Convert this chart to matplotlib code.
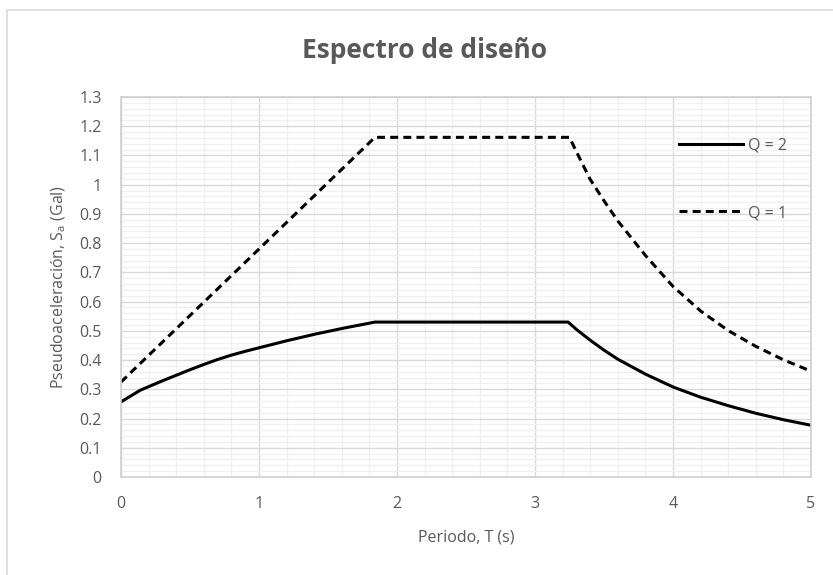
import matplotlib
matplotlib.use('agg')
import matplotlib.pyplot as plt
from matplotlib.ticker import MultipleLocator, FuncFormatter
from matplotlib.patches import Rectangle

## values
T_q2 = [0, 0.14, 0.2, 0.3, 0.4, 0.5, 0.6, 0.7, 0.8, 0.9, 1.0, 1.2, 1.4, 1.6, 1.84,
		3.24, 3.3, 3.4, 3.5, 3.6, 3.8, 4.0, 4.2, 4.4, 4.6, 4.8, 5.0]
Sa_q2 = [0.257, 0.297, 0.309, 0.329, 0.348, 0.367, 0.385, 0.402, 0.417, 0.430, 0.442,
		 0.466, 0.488, 0.508, 0.530,
		 0.530, 0.505, 0.468, 0.434, 0.403, 0.352, 0.308, 0.273, 0.244, 0.218, 0.196, 0.177]

T_q1 = [0, 1.84, 3.25, 3.3, 3.4, 3.5, 3.6, 3.8, 4.0, 4.2, 4.4, 4.6, 4.8, 5.0]
Sa_q1 = [0.325, 1.162, 1.162, 1.113, 1.018, 0.945, 0.876, 0.758, 0.652, 0.568, 0.501, 0.447, 0.401, 0.362]

labels = ["Q = 2", "Q = 1"]
x_ticks = [0, 1, 2, 3, 4, 5]

GRAY_TXT = "#595959"
FONT = ['Open Sans', 'DejaVu Sans']


def main():
	plt.rcParams['font.family'] = FONT
	fig = plt.figure(figsize=(8.33, 5.75), dpi=100)
	ax = fig.add_axes([121/833., 1-477/575., 690/833., 380/575.])

	## outer chart border (excel style)
	fig.patches.append(Rectangle((7/833., -0.01), 1.0, 1-10/575.+0.01, transform=fig.transFigure,
		fill=False, edgecolor="#d9d9d9", linewidth=1.2))

	ax.plot(T_q2, Sa_q2, color='black', lw=2.2, label=labels[0], solid_joinstyle='round')
	ax.plot(T_q1, Sa_q1, color='black', lw=2.2, dashes=(2.6, 1.7), label=labels[1])

	ax.set_xlim(0, 5)
	ax.set_ylim(0, 1.3)
	ax.set_xticks(x_ticks)
	ax.yaxis.set_major_locator(MultipleLocator(0.1))
	ax.xaxis.set_minor_locator(MultipleLocator(0.2))
	ax.yaxis.set_minor_locator(MultipleLocator(0.02))
	ax.yaxis.set_major_formatter(FuncFormatter(lambda v, p: "%g" % round(v, 1)))

	ax.grid(which='minor', color='#f0f0f0', lw=1.0)
	ax.grid(which='major', color='#d9d9d9', lw=1.0)
	ax.set_axisbelow(True)
	for s in ax.spines.values():
		s.set_color('#d0d0d0')
		s.set_linewidth(1.2)

	ax.tick_params(which='both', length=0, colors=GRAY_TXT, labelsize=11.5)
	ax.tick_params(axis='x', pad=14)
	ax.tick_params(axis='y', pad=14)

	ax.set_xlabel("Periodo, T (s)", color=GRAY_TXT, fontsize=11.5, labelpad=12)
	ax.set_ylabel("Pseudoaceleración, S$_\\mathregular{a}$ (Gal)", color=GRAY_TXT, fontsize=11.5, labelpad=8)
	fig.text(424/833., 1-50/575., "Espectro de diseño", ha='center', va='center',
		fontsize=19, color=GRAY_TXT, fontweight='bold')

	leg = ax.legend(loc='upper left', bbox_to_anchor=(0.788, 0.93), frameon=False,
		handlelength=4.0, labelspacing=3.2, fontsize=11.5, handletextpad=0.3)
	for t in leg.get_texts():
		t.set_color(GRAY_TXT)

	fig.savefig("out.png", dpi=100)


if __name__ == "__main__":
	main()
